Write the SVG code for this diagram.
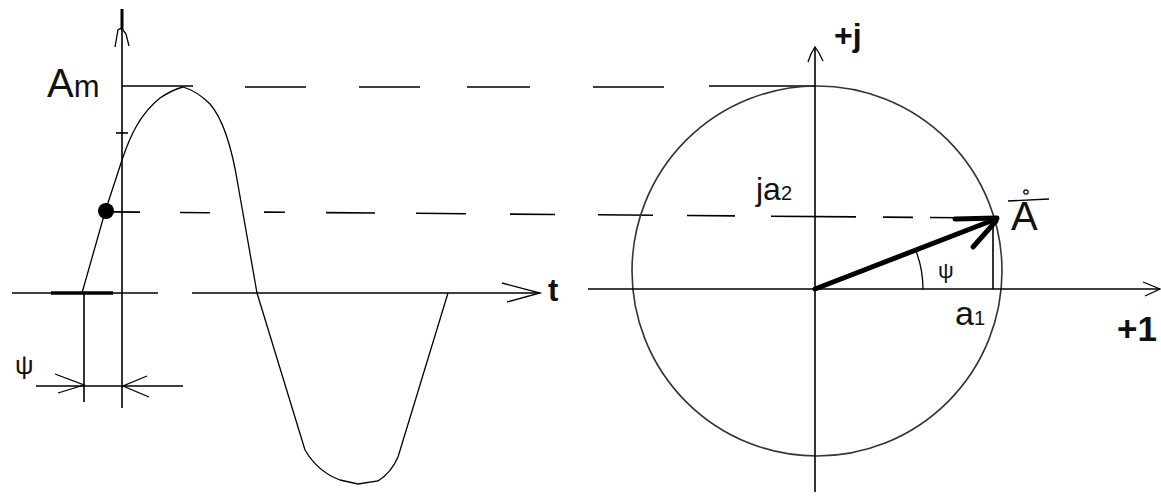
<svg xmlns="http://www.w3.org/2000/svg" width="1161" height="496" viewBox="0 0 1161 496">
<style>
.ln{stroke:#000;stroke-width:1.6;fill:none}
.thin{stroke:#000;stroke-width:1.3;fill:none}
.thick{stroke:#000;stroke-width:5;fill:none;stroke-linecap:round}
.circ{stroke:#333;stroke-width:1.6;fill:none}
.tx{font-family:"Liberation Sans",Arial,sans-serif;fill:#111}
.b{font-weight:bold}
</style>
<rect width="1161" height="496" fill="#fff"/>
<g id="left-plot">
  <g id="left-axes">
    <line class="ln" x1="122" y1="9" x2="122" y2="408"/>
    <line class="ln" x1="122" y1="9" x2="122" y2="30" style="stroke-width:3"/>
    <polyline class="thin" points="115,47 118,30 121,28"/>
    <polyline class="thin" points="129,46 126,34 123,30"/>
    <line class="ln" x1="116" y1="133" x2="128" y2="133"/>
    <line class="ln" x1="12" y1="293" x2="158" y2="293"/>
    <line class="ln" x1="192" y1="293" x2="540" y2="293"/>
    <line x1="51" y1="293" x2="113" y2="293" stroke="#000" stroke-width="3.5"/>
    <polyline class="thin" points="502,283 540,293 507,302"/>
    <line class="ln" x1="122" y1="86" x2="193" y2="86"/>
  </g>
  <path id="sine" class="thin" d="M82,293 L105,212 L122,160 C130,136 140,114 160,98 Q172,90 183,87 Q197,91 210,104 C224,120 232,148 238,185 L257,293 L305,450 Q318,472 340,480 L358,484 L378,481 Q391,473 398,457 L448,293"/>
  <circle id="point" cx="106" cy="211" r="8" fill="#000"/>
  <g id="psi-dim">
    <line class="ln" x1="84" y1="293" x2="84" y2="402"/>
    <line class="ln" x1="36" y1="386" x2="183" y2="386"/>
    <polyline class="thin" points="55,374 84,385 58,393"/>
    <polyline class="thin" points="147,376 123,386 149,397"/>
    <text class="tx" x="15" y="374" font-size="26">ψ</text>
  </g>
  <text class="tx" x="47" y="97" font-size="40">A<tspan font-size="31">m</tspan></text>
  <text class="tx b" x="548" y="301" font-size="31">t</text>
</g>
<g id="connectors">
  <path class="ln" d="M245,87 H306 M359,87 H420 M467,87 H530 M593,87 H664 M709,86 H815"/>
  <path class="ln" d="M113,211.9 L140,212.1 M180,212.5 L210,212.7 M264,212.1 L285,212.3 M326,212.6 L375,213 M416,213.3 L466,213.7 M510,214.1 L555,214.5 M598,214.8 L653,215.2 M687,215.5 L735,215.9 M771,216.2 L856,216.9 M883,217.1 L913,217.4 M930,217.5 L960,217.7"/>
</g>
<g id="right-plot">
  <ellipse id="circle" class="circ" cx="817" cy="271" rx="185" ry="185"/>
  <g id="right-axes">
    <line class="ln" x1="815" y1="47" x2="815" y2="492"/>
    <polyline class="thin" points="808,62 811,54 815,47 819,53 823,61"/>
    <line class="ln" x1="588" y1="289" x2="1160" y2="289"/>
    <polyline class="thin" points="1143,282 1160,289 1145,296"/>
  </g>
  <g id="vector">
    <line class="thick" x1="815" y1="289" x2="996" y2="219"/>
    <line class="thick" x1="955" y1="219" x2="997" y2="218"/>
    <line class="thick" x1="973" y1="247" x2="996" y2="221"/>
    <line class="ln" x1="993" y1="218" x2="993" y2="289"/>
    <path class="thin" d="M923,289 A108,108 0 0 0 916,251"/>
    <text class="tx" x="938" y="278" font-size="22">ψ</text>
  </g>
  <g id="A-label">
    <text class="tx" x="1011" y="230" font-size="40">A</text>
    <line class="thin" x1="1008" y1="201" x2="1049" y2="199"/>
    <circle cx="1026" cy="192" r="2.2" fill="none" stroke="#000" stroke-width="1.2"/>
  </g>
  <text class="tx b" x="834" y="46" font-size="32">+j</text>
  <text class="tx" x="756" y="200" font-size="32">ja<tspan font-size="20">2</tspan></text>
  <text class="tx" x="955" y="325" font-size="34">a<tspan font-size="20">1</tspan></text>
  <text class="tx b" x="1117" y="341" font-size="35">+1</text>
</g>
</svg>
